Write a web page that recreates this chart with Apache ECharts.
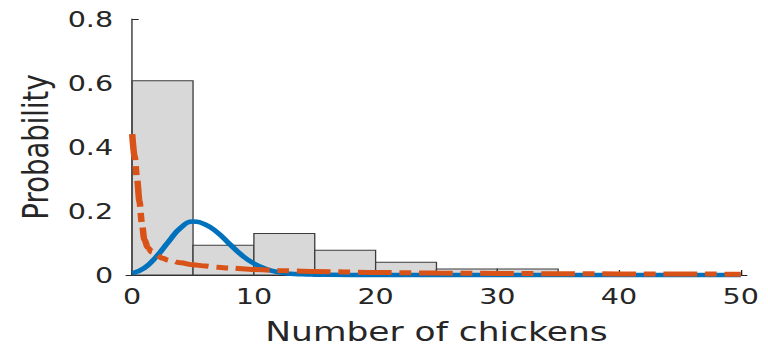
<!DOCTYPE html>
<html>
<head>
<meta charset="utf-8">
<script src="https://cdn.jsdelivr.net/npm/echarts@6/dist/echarts.min.js"></script>
<style>
  html, body { margin: 0; padding: 0; background: #fff; overflow: hidden; width: 768px; height: 350px; }
  /* the figure is laid out narrow and widened horizontally */
  #chart { width: 591px; height: 350px; transform: scaleX(1.3); transform-origin: 0 0; }
</style>
</head>
<body>
<div id="chart"></div>
<script>
// Histogram of observed counts (bin edges and probability per bin)
const binEdges = [0, 5, 10, 15, 20, 25, 30, 35];
const binProb  = [0.607, 0.093, 0.130, 0.077, 0.040, 0.019, 0.019];

// Poisson-like fit (solid blue)
const fitAX = [0, 1, 2, 3, 4, 5, 6, 7, 8, 9, 10, 11, 12, 13, 14, 15, 16, 20, 30, 40, 50];
const fitAY = [0.005, 0.022, 0.058, 0.105, 0.148, 0.167, 0.158, 0.133, 0.097, 0.062, 0.036,
               0.019, 0.009, 0.004, 0.002, 0.001, 0.0005, 0, 0, 0, 0];

// Heavy-tailed fit (dash-dot orange)
const fitBX = [0, 0.2, 0.4, 0.6, 0.8, 1.0, 1.3, 1.6, 2, 2.5, 3, 4, 5, 6, 7, 8, 10, 12, 15, 20, 25, 30, 35, 40, 45, 50];
const fitBY = [0.44, 0.37, 0.30, 0.23, 0.16, 0.11, 0.085, 0.072, 0.062, 0.052, 0.046, 0.038, 0.032,
               0.028, 0.024, 0.022, 0.017, 0.014, 0.011, 0.008, 0.006, 0.005, 0.004, 0.0035, 0.003, 0.0025];

const xTicks = [0, 10, 20, 30, 40, 50];
const yTicks = [0, 0.2, 0.4, 0.6, 0.8];

const textColor = '#262626';
const font = 'DejaVu Sans';

const chart = echarts.init(document.getElementById('chart'), null, { renderer: 'svg' });

chart.setOption({
  animation: false,
  backgroundColor: '#ffffff',
  grid: { left: 97, right: 16.5, top: 19, bottom: 75, containLabel: false, outerBoundsMode: 'none' },
  xAxis: {
    type: 'value',
    min: -0.5,
    max: 50.5,
    name: 'Number of chickens',
    nameLocation: 'middle',
    nameGap: 43,
    nameTextStyle: { fontFamily: font, fontSize: 26.5, color: textColor },
    axisLine: { show: true, onZero: false, lineStyle: { color: textColor, width: 1 } },
    axisTick: { show: true, inside: true, length: 5, customValues: xTicks, lineStyle: { color: textColor } },
    axisLabel: { customValues: xTicks, margin: 10, fontFamily: font, fontSize: 22, color: textColor },
    splitLine: { show: false }
  },
  yAxis: {
    type: 'value',
    min: yTicks[0],
    max: yTicks[yTicks.length - 1],
    interval: 0.2,
    name: 'Probability',
    nameLocation: 'middle',
    nameGap: 54,
    nameRotate: 90,
    nameTextStyle: { fontFamily: font, fontSize: 27.5, color: textColor },
    axisLine: { show: true, lineStyle: { color: textColor, width: 1 } },
    axisTick: { show: true, inside: true, length: 5, lineStyle: { color: textColor } },
    axisLabel: { margin: 10, fontFamily: font, fontSize: 22, color: textColor },
    splitLine: { show: false }
  },
  series: [
    {
      type: 'custom',
      name: 'Histogram',
      data: binProb.map((p, i) => [binEdges[i], binEdges[i + 1], p]),
      encode: { x: [0, 1], y: 2 },
      renderItem: function (params, api) {
        const topLeft = api.coord([api.value(0), api.value(2)]);
        const bottomRight = api.coord([api.value(1), 0]);
        return {
          type: 'rect',
          shape: {
            x: topLeft[0],
            y: topLeft[1],
            width: bottomRight[0] - topLeft[0],
            height: bottomRight[1] - topLeft[1]
          },
          style: { fill: '#d8d8d8', stroke: '#3c3c3c', lineWidth: 1 }
        };
      },
      z: 1
    },
    {
      type: 'line',
      name: 'Fit A',
      data: fitAX.map((x, i) => [x, fitAY[i]]),
      showSymbol: false,
      smooth: 0.5,
      clip: false,
      lineStyle: { color: '#0072BD', width: 4.5 },
      z: 2
    },
    {
      type: 'line',
      name: 'Fit B',
      data: fitBX.map((x, i) => [x, fitBY[i]]),
      showSymbol: false,
      smooth: 0.3,
      smoothMonotone: 'x',
      clip: false,
      lineStyle: { color: '#D95319', width: 5, type: [26, 6, 9, 6], cap: 'butt' },
      z: 3
    }
  ]
});
</script>
</body>
</html>
